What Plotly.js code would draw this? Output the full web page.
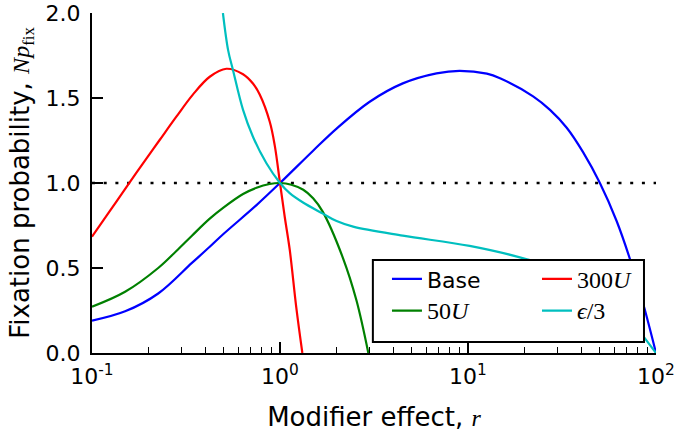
<!DOCTYPE html>
<html>
<head>
<meta charset="utf-8">
<script src="https://cdn.plot.ly/plotly-3.0.1.min.js"></script>
<style>html,body{margin:0;padding:0;background:#fff;}</style>
</head>
<body>
<div id="chart" style="width:677px;height:432px;"></div>
<script>
// Data
const baseR = [0.1, 0.15, 0.225, 0.34, 0.423, 0.5, 0.75, 1, 1.5, 2, 3, 4.5, 6.8, 9, 12.6, 14.8, 22.2, 27.3, 33.5, 41, 50.3, 61.8, 72.8, 85.7, 100];
const baseY = [0.19, 0.245, 0.35, 0.53, 0.625, 0.70, 0.87, 1.0, 1.19, 1.32, 1.478, 1.586, 1.645, 1.66, 1.643, 1.616, 1.51, 1.43, 1.325, 1.18, 1.0, 0.775, 0.55, 0.285, 0.0];

const u50R = [0.1, 0.15, 0.225, 0.281, 0.34, 0.423, 0.5, 0.636, 0.75, 0.881, 1, 1.15, 1.33, 1.5, 1.69, 2.16, 2.55, 2.95];
const u50Y = [0.272, 0.36, 0.50, 0.60, 0.69, 0.79, 0.855, 0.935, 0.972, 0.994, 1.0, 0.99, 0.96, 0.91, 0.83, 0.56, 0.31, 0.0];

const u300R = [0.1, 0.124, 0.155, 0.186, 0.229, 0.281, 0.344, 0.423, 0.518, 0.636, 0.718, 0.78, 0.882, 0.938, 1.0, 1.06, 1.127, 1.22, 1.315];
const u300Y = [0.684, 0.833, 0.987, 1.113, 1.253, 1.39, 1.52, 1.625, 1.672, 1.64, 1.585, 1.52, 1.36, 1.22, 1.0, 0.80, 0.606, 0.27, 0.0];

const epsR = [0.497, 0.53, 0.562, 0.636, 0.718, 0.847, 1.0, 1.126, 1.326, 1.69, 2.0, 2.45, 4.5, 10.2, 20.6, 40, 60, 75, 86.7, 100];
const epsY = [2.0, 1.78, 1.665, 1.43, 1.272, 1.116, 1.0, 0.94, 0.885, 0.82, 0.776, 0.743, 0.69, 0.63, 0.551, 0.44, 0.30, 0.18, 0.09, 0.0];

const refR = [0.1, 100];
const refY = [1, 1];

const xTickVals = [0.1, 1, 10, 100];
const xTickText = ['10<sup>-1</sup>', '10<sup>0</sup>', '10<sup>1</sup>', '10<sup>2</sup>'];
const xMinorVals = [0.2,0.3,0.4,0.5,0.6,0.7,0.8,0.9,2,3,4,5,6,7,8,9,20,30,40,50,60,70,80,90];
const yTickVals = [0, 0.5, 1, 1.5, 2];
const yTickText = ['0.0', '0.5', '1.0', '1.5', '2.0'];

const SERIF = "font-family:'Liberation Serif','DejaVu Serif',serif;font-size:24px";

const traces = [
  {x: refR, y: refY, mode: 'lines', showlegend: false, hoverinfo: 'skip',
   line: {color: '#000', width: 2.5, dash: '3px,8.7px'}},
  {x: baseR, y: baseY, mode: 'lines', name: 'Base', legend: 'legend',
   line: {color: '#0000ff', width: 2.2, shape: 'spline', smoothing: 1}},
  {x: u50R, y: u50Y, mode: 'lines', name: '<span style="' + SERIF + '">50<i>U</i></span>', legend: 'legend',
   line: {color: '#008000', width: 2.2, shape: 'spline', smoothing: 1}},
  {x: u300R, y: u300Y, mode: 'lines', name: '<span style="' + SERIF + '">300<i>U</i></span>', legend: 'legend2',
   line: {color: '#ff0000', width: 2.2, shape: 'spline', smoothing: 1}},
  {x: epsR, y: epsY, mode: 'lines', name: '<span style="' + SERIF + '"><i>ϵ</i>/3</span>', legend: 'legend2',
   line: {color: '#00bfbf', width: 2.2, shape: 'spline', smoothing: 1}}
];

const legendCommon = {
  orientation: 'v', xanchor: 'left', yanchor: 'top', y: 0.279,
  bgcolor: 'rgba(0,0,0,0)', borderwidth: 0,
  font: {family: 'DejaVu Sans', size: 22, color: '#000'},
  traceorder: 'normal', itemwidth: 30
};

const layout = {
  width: 677, height: 432,
  margin: {l: 92, r: 21, t: 13, b: 79},
  paper_bgcolor: '#fff', plot_bgcolor: '#fff',
  font: {family: 'DejaVu Sans', size: 22, color: '#000'},
  showlegend: true,
  legend: Object.assign({}, legendCommon, {x: 0.523}),
  legend2: Object.assign({}, legendCommon, {x: 0.789}),
  shapes: [{
    type: 'rect', xref: 'paper', yref: 'paper', layer: 'above',
    x0: 0.498, x1: 0.9787, y0: 0.0324, y1: 0.2735,
    fillcolor: '#fff', line: {color: '#000', width: 2}
  }],
  xaxis: {
    type: 'log', range: [-1, 2], showgrid: false, zeroline: false,
    showline: true, linecolor: '#000', linewidth: 2, mirror: false,
    ticks: 'inside', ticklen: 11, tickwidth: 1.5, tickcolor: '#000',
    tickvals: xTickVals, ticktext: xTickText,
    tickfont: {family: 'DejaVu Sans', size: 22},
    ticklabelstandoff: 3,
    minor: {tickvals: xMinorVals, ticks: 'inside', ticklen: 6, tickwidth: 1.2, tickcolor: '#000', showgrid: false},
    title: {text: 'Modifier effect, <i><span style="' + SERIF + '">r</span></i>', font: {family: 'DejaVu Sans', size: 26}, standoff: 24}
  },
  yaxis: {
    range: [0, 2], showgrid: false, zeroline: false,
    showline: true, linecolor: '#000', linewidth: 2, mirror: false,
    ticks: 'inside', ticklen: 11, tickwidth: 1.5, tickcolor: '#000',
    tickvals: yTickVals, ticktext: yTickText,
    tickfont: {family: 'DejaVu Sans', size: 22},
    ticklabelstandoff: 5,
    title: {text: 'Fixation probability, <span style="' + SERIF + '"><i>Np</i><sub>fix</sub></span>', font: {family: 'DejaVu Sans', size: 26}}
  }
};

Plotly.newPlot('chart', traces, layout, {staticPlot: true, displayModeBar: false});
</script>
</body>
</html>
